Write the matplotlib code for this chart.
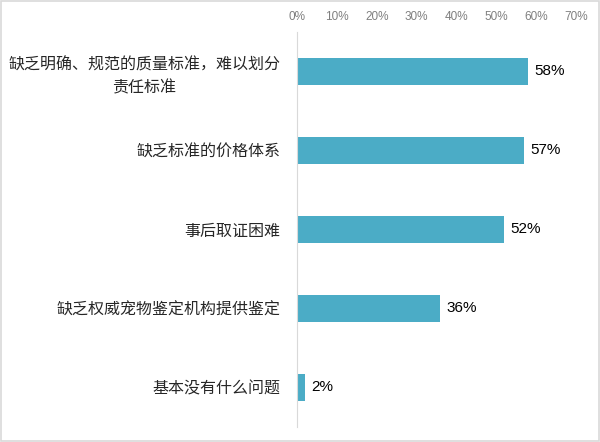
import matplotlib
matplotlib.use("Agg")
from matplotlib import pyplot as plt
from matplotlib.patches import Rectangle

plt.rcParams['font.family'] = ['Noto Sans CJK SC', 'DejaVu Sans']

categories = ['缺乏明确、规范的质量标准，难以划分\n责任标准',
              '缺乏标准的价格体系',
              '事后取证困难',
              '缺乏权威宠物鉴定机构提供鉴定',
              '基本没有什么问题']
values = [58, 57, 52, 36, 2]
ticks = [0, 10, 20, 30, 40, 50, 60, 70]

fig = plt.figure(figsize=(6, 4.42), dpi=100)
ax = fig.add_axes([0.495, 0.034, 0.465, 0.894])

pos = list(range(len(categories)))
ax.barh(pos, values, height=0.35, color='#4bacc6')
ax.set_ylim(len(categories) - 0.5, -0.5)
ax.set_xlim(0, 70)

for p, v in zip(pos, values):
    ax.text(v + 1.5, p, str(v) + '%', va='center', ha='left', fontsize=11,
            family=['Liberation Sans', 'DejaVu Sans'], color='black')

ax.xaxis.tick_top()
ax.set_xticks(ticks)
ax.set_xticklabels([str(t) + '%' for t in ticks], fontsize=8.5, color='#7f7f7f',
                   family=['Liberation Sans', 'DejaVu Sans'])
ax.tick_params(axis='x', length=0, pad=6)
ax.set_yticks(pos)
ax.set_yticklabels(categories, fontsize=11.5, color='#262626',
                   multialignment='center', linespacing=1.5)
ax.tick_params(axis='y', length=0, pad=12)

for s in ['top', 'right', 'bottom']:
    ax.spines[s].set_visible(False)
ax.spines['left'].set_color('#d9d9d9')

fig.patches.append(Rectangle((0.002, 0.002), 0.996, 0.996, transform=fig.transFigure,
                             fill=False, edgecolor='#d9d9d9', linewidth=1.2))

fig.savefig('out.png', dpi=100)
